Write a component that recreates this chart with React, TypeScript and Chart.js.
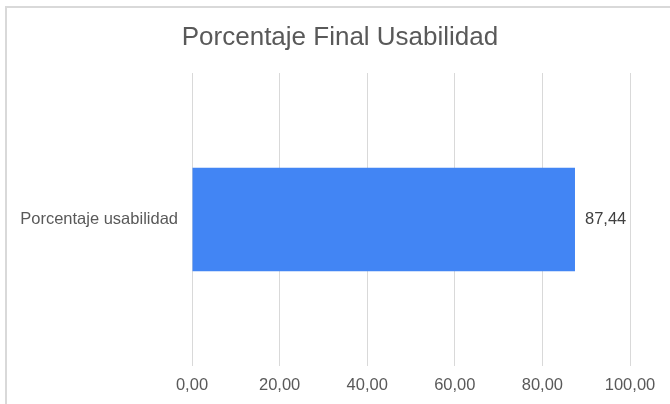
import React, { useEffect, useRef } from "react";
import { Chart, registerables } from "chart.js";

Chart.register(...registerables);

const chartTitle = "Porcentaje Final Usabilidad";
const categories = ["Porcentaje usabilidad"];
const values = [87.44];
const xTicks = [0, 20, 40, 60, 80, 100];

const fmt = (v: number) => v.toFixed(2).replace(".", ",");

const FONT = "'Liberation Sans', Arial, sans-serif";

const valueLabelPlugin = {
  id: "valueLabels",
  afterDatasetsDraw(chart: any) {
    const ctx = chart.ctx;
    const meta = chart.getDatasetMeta(0);
    ctx.save();
    ctx.font = `16.5px ${FONT}`;
    ctx.fillStyle = "#404040";
    ctx.textAlign = "left";
    ctx.textBaseline = "middle";
    meta.data.forEach((bar: any, i: number) => {
      ctx.fillText(fmt(values[i]), bar.x + 10, bar.y);
    });
    ctx.restore();
  },
};

const titlePlugin = {
  id: "centeredTitle",
  afterDraw(chart: any) {
    const ctx = chart.ctx;
    ctx.save();
    ctx.font = `26px ${FONT}`;
    ctx.fillStyle = "#595959";
    ctx.textAlign = "center";
    ctx.textBaseline = "middle";
    ctx.fillText(chartTitle, chart.width / 2 + 5, 38);
    ctx.restore();
  },
};

export default function App() {
  const ref = useRef<HTMLCanvasElement | null>(null);

  useEffect(() => {
    if (!ref.current) return;
    const chart = new Chart(ref.current, {
      type: "bar",
      data: {
        labels: categories,
        datasets: [
          {
            data: values,
            backgroundColor: "#4285f4",
            borderWidth: 0,
            categoryPercentage: 0.59,
            barPercentage: 0.6,
          },
        ],
      },
      options: {
        indexAxis: "y",
        animation: false,
        responsive: false,
        layout: { padding: { left: 0, right: 40, top: 73, bottom: 0 } },
        plugins: {
          legend: { display: false },
          tooltip: { enabled: false },
          title: { display: false },
        },
        scales: {
          x: {
            min: 0,
            max: 100,
            afterBuildTicks: (axis: any) => {
              axis.ticks = xTicks.map((v) => ({ value: v }));
            },
            afterFit: (axis: any) => {
              axis.height = 38;
            },
            grid: { color: "#d9d9d9", lineWidth: 1, drawTicks: false },
            border: { display: false },
            ticks: {
              color: "#595959",
              font: { family: FONT, size: 16.5 },
              padding: 10,
              callback: (v: any) => fmt(Number(v)),
            },
          },
          y: {
            grid: { display: false, drawTicks: false },
            border: { display: false },
            afterFit: (axis: any) => {
              axis.width = 192;
            },
            ticks: {
              color: "#595959",
              font: { family: FONT, size: 16.5 },
              padding: 14,
            },
          },
        },
      },
      plugins: [valueLabelPlugin, titlePlugin],
    });
    return () => chart.destroy();
  }, []);

  return (
    <div
      style={{
        position: "fixed",
        left: 0,
        top: 0,
        width: 670,
        height: 404,
        overflow: "hidden",
        background: "#ffffff",
      }}
    >
      <div
        style={{
          position: "absolute",
          left: 5,
          top: 6,
          width: 720,
          height: 460,
          border: "2px solid #d9d9d9",
          boxSizing: "border-box",
        }}
      />
      <canvas
        ref={ref}
        width={670}
        height={404}
        style={{ position: "absolute", left: 0, top: 0 }}
      />
    </div>
  );
}
